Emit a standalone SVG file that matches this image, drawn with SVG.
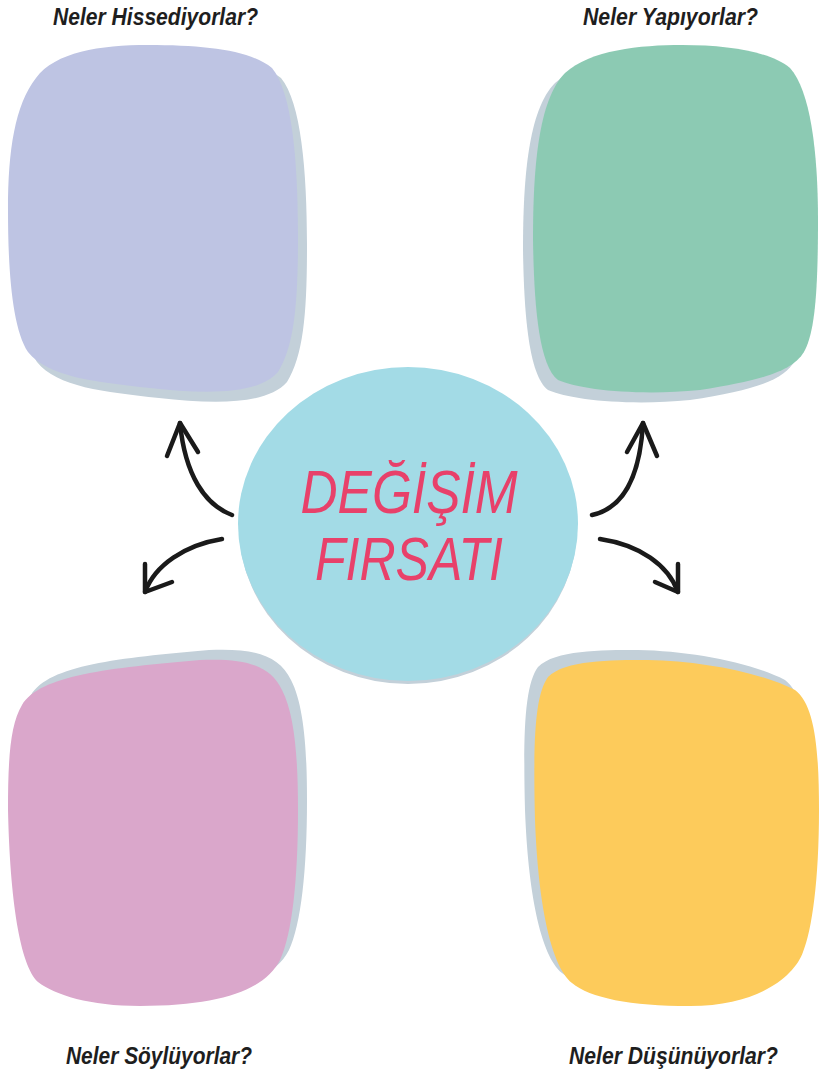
<svg xmlns="http://www.w3.org/2000/svg" width="819" height="1075" viewBox="0 0 819 1075">
<style>
.shadow{fill:#c3d0d9}
.title{font-family:"Liberation Sans","DejaVu Sans",sans-serif;font-style:italic;font-weight:bold;font-size:24px;fill:#1e1e1e}
.center{font-family:"Liberation Sans","DejaVu Sans",sans-serif;font-style:italic;font-size:62px;fill:#e8416a;text-anchor:middle}
.arrow{fill:none;stroke:#1a1a1a;stroke-width:4.5;stroke-linecap:round;stroke-linejoin:round}
</style>
<defs>
<path id="blobTL" d="M36 78 C55 52 100 45 148 45 C205 45 250 50 272 68 C292 92 298 160 298 235 C298 300 295 345 278 372 C258 395 205 394 150 388 C95 382 48 377 28 352 C12 328 8 270 8 210 C8 150 15 105 36 78 Z"/>
<path id="blobTR" d="M565 73 C590 50 640 45 682 45 C730 45 770 52 790 68 C810 90 818 150 818 220 C818 290 815 330 805 350 C795 370 765 380 700 390 C640 396 580 390 558 380 C538 365 534 300 533 240 C533 170 538 100 565 73 Z"/>
<path id="blobBL" d="M22 705 C40 675 110 668 200 660 C245 658 270 665 282 690 C295 715 298 760 298 810 C298 880 292 935 280 960 C265 990 220 1006 140 1006 C90 1006 55 995 38 982 C20 965 10 900 8 810 C8 760 10 725 22 705 Z"/>
<path id="blobBR" d="M548 677 C565 660 610 660 648 660 C700 661 760 672 795 690 C815 705 819 750 819 810 C819 880 812 930 803 952 C795 975 760 1006 690 1006 C630 1006 590 998 572 983 C550 965 538 900 535 820 C533 740 535 695 548 677 Z"/>
</defs>
<g id="node-feel">
<use href="#blobTL" class="shadow" transform="translate(9,10)"/>
<use href="#blobTL" fill="#bec4e3"/>
<text class="title" x="53" y="25" textLength="205" lengthAdjust="spacingAndGlyphs">Neler Hissediyorlar?</text>
</g>
<g id="node-do">
<use href="#blobTR" class="shadow" transform="translate(-10,10)"/>
<use href="#blobTR" fill="#8ccab3"/>
<text class="title" x="583" y="25" textLength="175" lengthAdjust="spacingAndGlyphs">Neler Yapıyorlar?</text>
</g>
<g id="node-say">
<use href="#blobBL" class="shadow" transform="translate(9,-10)"/>
<use href="#blobBL" fill="#daa7cb"/>
<text class="title" x="66" y="1064" textLength="186" lengthAdjust="spacingAndGlyphs">Neler Söylüyorlar?</text>
</g>
<g id="node-think">
<use href="#blobBR" class="shadow" transform="translate(-10,-10)"/>
<use href="#blobBR" fill="#fdcb5b"/>
<text class="title" x="569" y="1064" textLength="209" lengthAdjust="spacingAndGlyphs">Neler Düşünüyorlar?</text>
</g>
<g id="node-center">
<ellipse cx="408" cy="527" rx="169" ry="157" class="shadow"/>
<ellipse cx="408" cy="524" rx="170" ry="157" fill="#a3dbe6"/>
<text class="center" x="409" y="513" textLength="217" lengthAdjust="spacingAndGlyphs">DEĞİŞİM</text>
<text class="center" x="409" y="580" textLength="188" lengthAdjust="spacingAndGlyphs">FIRSATI</text>
</g>
<g id="connectors">
<path class="arrow" d="M232 515 C205 505 185 475 180 423"/>
<path class="arrow" d="M167 456 L180 423 L198 452"/>
<path class="arrow" d="M222 539 C185 545 155 565 145 592"/>
<path class="arrow" d="M145 564 L145 592 L172 582"/>
<path class="arrow" d="M592 515 C625 508 640 475 643 423"/>
<path class="arrow" d="M627 452 L643 423 L657 456"/>
<path class="arrow" d="M600 539 C640 545 668 565 678 592"/>
<path class="arrow" d="M678 564 L678 592 L655 582"/>
</g>
</svg>
